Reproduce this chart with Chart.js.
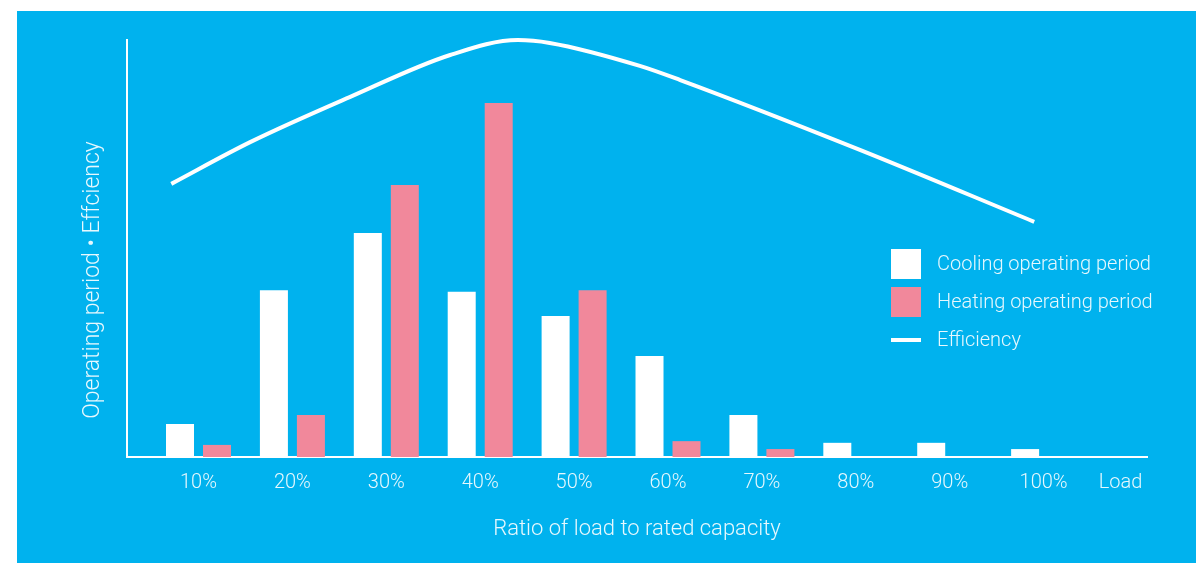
<!DOCTYPE html>
<html>
<head>
<meta charset="utf-8">
<title>Operating period and efficiency by load ratio</title>
<script src="https://cdn.jsdelivr.net/npm/chart.js@4/dist/chart.umd.min.js"></script>
<style>
  html, body { margin: 0; padding: 0; background: #ffffff; }
  body { width: 1196px; height: 563px; position: relative; overflow: hidden; }
  #panel { position: absolute; left: 17px; top: 11px; right: 0; bottom: 0; background: #00b2ee; }
  #chart { position: absolute; left: 0; top: 0; }
</style>
</head>
<body>
<div id="panel"></div>
<canvas id="chart" width="1196" height="563"></canvas>
<script>
// Load ratio (% of rated capacity) for each bar group
const loads = [10, 20, 30, 40, 50, 60, 70, 80, 90, 100];
const categories = ['10%', '20%', '30%', '40%', '50%', '60%', '70%', '80%', '90%', '100%'];
// Axis end label and where it sits on the load axis
const endLabel = 'Load';
const endLabelLoad = 108.2;

// Share of operating time spent at each load (relative units)
const cooling = [7.9, 40.0, 53.7, 39.6, 33.8, 24.2, 10.1, 3.4, 3.4, 1.9];
const heating = [2.9, 10.1, 65.2, 84.9, 40.0, 3.8, 1.9, 0, 0, 0];

// Efficiency curve sampled along the load axis (relative units)
const effLoad = [7.1, 15.5, 26.1, 36.8, 44.0, 47.4, 57.0, 61.3, 80.5, 99.0];
const effValue = [65.5, 75.5, 86.3, 96.4, 100, 99.3, 93.8, 90.4, 73.6, 56.4];

const seriesNames = ['Cooling operating period', 'Heating operating period', 'Efficiency'];
const xTitle = 'Ratio of load to rated capacity';
const yTitle = 'Operating period \u2022 Effciency';

const TEXT = 'rgba(255,255,255,0.9)';
const FAMILY = 'Roboto, "DejaVu Sans", sans-serif';
const WEIGHT = '300';
const PINK = '#f1889b';

const tickLoads = [...loads, endLabelLoad];
const tickLabels = [...categories, endLabel];

// Legend and rotated y title drawn on the canvas
const annotations = {
  id: 'annotations',
  afterDraw(chart) {
    const ctx = chart.ctx;
    ctx.save();
    ctx.font = WEIGHT + ' 20px ' + FAMILY;
    ctx.textBaseline = 'middle';
    ctx.textAlign = 'left';
    const rows = [264, 302, 340];
    chart.data.datasets.forEach((ds, i) => {
      const y = rows[i];
      ctx.fillStyle = ds.legendColor;
      if (ds.type === 'line') {
        ctx.fillRect(891, y - 2, 30, 4);
      } else {
        ctx.fillRect(891, y - 15, 30, 30);
      }
      ctx.fillStyle = TEXT;
      ctx.fillText(ds.label, 937, y + 1);
    });
    // y axis title
    ctx.translate(93, 280);
    ctx.rotate(-Math.PI / 2);
    ctx.textAlign = 'center';
    ctx.font = WEIGHT + ' 23px ' + FAMILY;
    ctx.fillText(yTitle, 0, 0);
    ctx.restore();
  }
};

new Chart(document.getElementById('chart'), {
  type: 'bar',
  data: {
    datasets: [
      {
        label: seriesNames[0],
        data: cooling.map((v, i) => ({ x: loads[i], y: v })),
        backgroundColor: '#ffffff',
        legendColor: '#ffffff',
        borderWidth: 0,
        categoryPercentage: 0.961,
        barPercentage: 0.757,
        order: 2
      },
      {
        label: seriesNames[1],
        data: heating.map((v, i) => ({ x: loads[i], y: v })),
        backgroundColor: PINK,
        legendColor: PINK,
        borderWidth: 0,
        categoryPercentage: 0.961,
        barPercentage: 0.757,
        order: 2
      },
      {
        type: 'line',
        label: seriesNames[2],
        data: effLoad.map((x, i) => ({ x, y: effValue[i] })),
        borderColor: '#ffffff',
        legendColor: '#ffffff',
        borderWidth: 4,
        borderCapStyle: 'butt',
        pointRadius: 0,
        fill: false,
        cubicInterpolationMode: 'monotone',
        clip: false,
        order: 1
      }
    ]
  },
  options: {
    responsive: false,
    animation: false,
    devicePixelRatio: 1,
    layout: { padding: { top: 40, right: 49, left: 0, bottom: 0 } },
    plugins: {
      legend: { display: false },
      tooltip: { enabled: false }
    },
    scales: {
      x: {
        type: 'linear',
        min: 2.385,
        max: 111.01,
        offset: false,
        grid: { display: false, drawTicks: false, offset: false },
        border: { display: true, color: '#ffffff', width: 2 },
        afterBuildTicks(scale) {
          scale.ticks = tickLoads.map(v => ({ value: v }));
        },
        afterFit(scale) { scale.height = 106; },
        ticks: {
          autoSkip: false,
          maxRotation: 0,
          padding: 14,
          color: TEXT,
          font: { family: FAMILY, size: 20, weight: WEIGHT },
          callback: (value, index) => tickLabels[index]
        },
        title: {
          display: true,
          text: xTitle,
          color: TEXT,
          font: { family: FAMILY, size: 22, weight: WEIGHT },
          padding: { top: 0, bottom: 20 }
        }
      },
      y: {
        type: 'linear',
        min: 0,
        max: 100,
        grid: { display: false, drawTicks: false },
        border: { display: true, color: '#ffffff', width: 2 },
        ticks: { display: false },
        afterFit(scale) { scale.width = 127; }
      }
    }
  },
  plugins: [annotations]
});
</script>
</body>
</html>
